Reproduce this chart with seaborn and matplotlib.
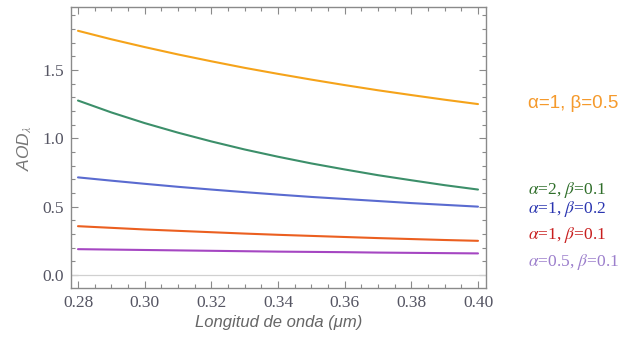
import matplotlib
matplotlib.use("Agg")
import matplotlib.pyplot as plt
import seaborn as sns
import pandas as pd
from matplotlib.ticker import MultipleLocator, FormatStrFormatter

# Wavelengths (µm) and aerosol optical depth for each (alpha, beta) pair
wavelength = [0.28, 0.29, 0.30, 0.31, 0.32, 0.33, 0.34, 0.35, 0.36, 0.37, 0.38, 0.39, 0.40]
aod_a1_b05 = [1.786, 1.724, 1.667, 1.613, 1.563, 1.515, 1.471, 1.429, 1.389, 1.351, 1.316, 1.282, 1.250]
aod_a2_b01 = [1.276, 1.189, 1.111, 1.041, 0.977, 0.918, 0.865, 0.816, 0.772, 0.730, 0.693, 0.657, 0.625]
aod_a1_b02 = [0.714, 0.690, 0.667, 0.645, 0.625, 0.606, 0.588, 0.571, 0.556, 0.541, 0.526, 0.513, 0.500]
aod_a1_b01 = [0.357, 0.345, 0.333, 0.323, 0.313, 0.303, 0.294, 0.286, 0.278, 0.270, 0.263, 0.256, 0.250]
aod_a05_b01 = [0.189, 0.186, 0.183, 0.180, 0.177, 0.174, 0.171, 0.169, 0.167, 0.164, 0.162, 0.160, 0.158]

series_names = ["a1_b05", "a2_b01", "a1_b02", "a1_b01", "a05_b01"]
series_values = [aod_a1_b05, aod_a2_b01, aod_a1_b02, aod_a1_b01, aod_a05_b01]
series_labels = [r"α=1, β=0.5", r"$\alpha$=2, $\beta$=0.1", r"$\alpha$=1, $\beta$=0.2",
                 r"$\alpha$=1, $\beta$=0.1", r"$\alpha$=0.5, $\beta$=0.1"]
line_colors = ["#F5A31A", "#3C8F6A", "#5A6BD0", "#EB5F20", "#A546C2"]
label_colors = ["#F59A2C", "#2F6E2A", "#2A35B0", "#C81E1E", "#9C7FCC"]
label_y = [1.255, 0.625, 0.485, 0.295, 0.095]

rows = []
for name, vals in zip(series_names, series_values):
    for w, v in zip(wavelength, vals):
        rows.append({"wavelength": w, "aod": v, "series": name})
df = pd.DataFrame(rows)

sns.set_theme(style="ticks")
plt.rcParams["mathtext.fontset"] = "stix"

fig = plt.figure(figsize=(6.31, 3.40), dpi=100)
ax = fig.add_axes([71 / 631, 52 / 340, 415 / 631, 281 / 340])

ax.axhline(0, color="#d0d0d0", lw=0.9, zorder=1)
sns.lineplot(data=df, x="wavelength", y="aod", hue="series", hue_order=series_names,
             palette=line_colors, linewidth=1.5, legend=False, ax=ax, zorder=3)

ax.set_xlim(0.2779, 0.4024)
ax.set_ylim(-0.095, 1.96)
ax.xaxis.set_major_locator(MultipleLocator(0.02))
ax.xaxis.set_minor_locator(MultipleLocator(0.005))
ax.yaxis.set_major_locator(MultipleLocator(0.5))
ax.yaxis.set_minor_locator(MultipleLocator(0.1))
ax.xaxis.set_major_formatter(FormatStrFormatter("%.2f"))
ax.yaxis.set_major_formatter(FormatStrFormatter("%.1f"))

frame_color = "#8a8a8a"
for sp in ax.spines.values():
    sp.set_color(frame_color)
    sp.set_linewidth(1.0)
ax.tick_params(which="both", direction="in", top=True, right=True, color=frame_color,
               width=0.8, labelsize=12.5, labelcolor="#555563", pad=5)
ax.tick_params(which="major", length=5)
ax.tick_params(which="minor", length=2.8)
for lab in ax.get_xticklabels() + ax.get_yticklabels():
    lab.set_fontfamily("Liberation Serif")

ax.set_xlabel("Longitud de onda (μm)", fontfamily="Liberation Sans", fontstyle="italic",
              fontsize=12, color="#666666", labelpad=3)
ax.set_ylabel(r"AOD$_{\lambda}$", fontfamily="Liberation Sans", fontstyle="italic",
              fontsize=12.5, color="#777777", labelpad=6)

for i, (txt, col, yv) in enumerate(zip(series_labels, label_colors, label_y)):
    if i == 0:
        ax.text(1.1, yv, txt, transform=ax.get_yaxis_transform(), color=col,
                fontsize=13.5, fontfamily="Liberation Sans", va="center", ha="left")
    else:
        ax.text(1.1, yv, txt, transform=ax.get_yaxis_transform(), color=col,
                fontsize=12.5, fontfamily="Liberation Serif", va="center", ha="left")

fig.savefig("out.png", dpi=100)
